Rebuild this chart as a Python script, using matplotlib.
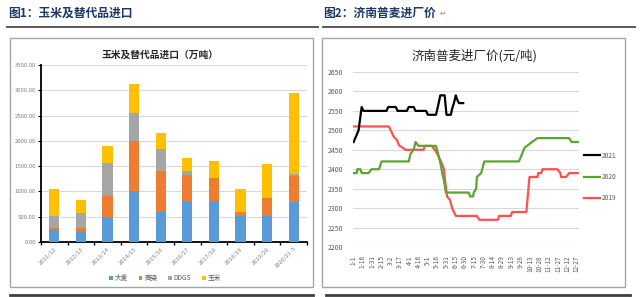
import matplotlib
matplotlib.use('Agg')
import matplotlib.pyplot as plt
from matplotlib.patches import Rectangle
from matplotlib.lines import Line2D

plt.rcParams['font.family'] = ['Noto Sans CJK SC', 'DejaVu Sans']

# ---------------- data: left chart (万吨) ----------------
seasons = ['2011/12', '2012/13', '2013/14', '2014/15', '2015/16',
           '2016/17', '2017/18', '2018/19', '2019/20', '2020/21-5']
barley = [250, 220, 490, 1000, 590, 810, 810, 515, 520, 800]
sorghum = [20, 65, 420, 1000, 810, 515, 450, 70, 345, 510]
ddgs = [245, 285, 660, 555, 430, 80, 0, 15, 0, 25]
corn = [525, 265, 330, 560, 330, 255, 345, 455, 675, 1620]
series_names = ['大麦', '高粱', 'DDGS', '玉米']

# ---------------- data: right chart (元/吨) ----------------
date_labels = ['1-1', '1-16', '1-31', '2-15', '3-2', '3-17', '4-1', '4-16', '5-1',
               '5-16', '5-31', '6-15', '6-30', '7-15', '7-30', '8-14', '8-29',
               '9-13', '9-28', '10-13', '10-28', '11-12', '11-27', '12-12', '12-27']
day_2021 = [0, 8, 13, 16, 53, 56, 68, 71, 86, 89, 97, 100, 117, 120, 133, 136,
            140, 147, 150, 157, 159, 162, 165, 167, 170, 177]
price_2021 = [2470, 2500, 2560, 2550, 2550, 2560, 2560, 2550, 2550, 2560, 2560,
              2550, 2550, 2540, 2540, 2560, 2590, 2590, 2540, 2540, 2555, 2570,
              2590, 2580, 2570, 2570]
day_2020 = [0, 5, 6, 11, 13, 24, 29, 41, 45, 89, 92, 97, 100, 105, 133, 138, 141,
            143, 146, 149, 186, 188, 193, 194, 198, 199, 206, 211, 267, 276, 280,
            288, 297, 348, 352, 362]
price_2020 = [2390, 2390, 2400, 2400, 2390, 2390, 2400, 2400, 2420, 2420, 2440,
              2450, 2470, 2460, 2460, 2430, 2410, 2390, 2370, 2340, 2340, 2330,
              2330, 2340, 2350, 2380, 2390, 2420, 2420, 2455, 2460, 2470, 2480,
              2480, 2470, 2470]
day_2019 = [0, 57, 65, 70, 73, 84, 113, 115, 126, 131, 135, 141, 146, 147, 151,
            156, 159, 162, 165, 199, 203, 233, 235, 254, 256, 279, 284, 297, 298,
            303, 305, 329, 334, 335, 343, 348, 362]
price_2019 = [2510, 2510, 2483, 2475, 2462, 2450, 2450, 2460, 2460, 2450, 2440,
              2420, 2400, 2380, 2330, 2320, 2300, 2290, 2280, 2280, 2270, 2270,
              2280, 2280, 2290, 2290, 2380, 2380, 2390, 2390, 2400, 2400, 2390,
              2380, 2380, 2390, 2390]

W, H = 640, 297
fig = plt.figure(figsize=(W / 100, H / 100), dpi=100)


def px(x0, y0, x1, y1):
    return [x0 / W, 1 - y1 / H, (x1 - x0) / W, (y1 - y0) / H]


def fx(x):
    return x / W


def fy(y):
    return 1 - y / H


# ---------- page decorations ----------
fig.text(fx(8), fy(13), '图1：玉米及替代品进口', fontsize=8.5, weight='bold',
         color='#1F3864', va='center', ha='left')
fig.text(fx(323), fy(13), '图2：济南普麦进厂价', fontsize=8.5, weight='bold',
         color='#1F3864', va='center', ha='left')
fig.text(fx(440), fy(13), '↵', fontsize=5.5, color='#909090', va='center', ha='left',
         family=['DejaVu Sans'])
for (a, b) in [(7, 318), (323, 635)]:
    fig.add_artist(Line2D([fx(a), fx(b)], [fy(27), fy(27)], color='#595959', lw=1.4,
                          transform=fig.transFigure))
    fig.add_artist(Line2D([fx(a + 3), fx(b - 5)], [fy(295), fy(295)], color='#404040',
                          lw=2.0, transform=fig.transFigure))
for (x0, y0, x1, y1) in [(10, 38, 313, 287), (322, 38, 625, 287)]:
    fig.add_artist(Rectangle((fx(x0), fy(y1)), (x1 - x0) / W, (y1 - y0) / H,
                             fill=False, ec='#A6A6A6', lw=1.0,
                             transform=fig.transFigure))

# ---------- left chart ----------
ax = fig.add_axes(px(41, 65, 307, 242))
cols = ['#5B9BD5', '#ED7D31', '#A5A5A5', '#FFC000']
x = list(range(len(seasons)))
bottom = [0] * len(seasons)
handles = []
for vals, c, name in zip([barley, sorghum, ddgs, corn], cols, series_names):
    b = ax.bar(x, vals, width=0.39, bottom=bottom, color=c, label=name, zorder=3)
    handles.append(b)
    bottom = [bb + v for bb, v in zip(bottom, vals)]
ax.set_xlim(-0.5, len(seasons) - 0.5)
ax.set_ylim(0, 3500)
ax.set_yticks(range(0, 3501, 500))
ax.set_yticklabels([f'{v:.2f}' for v in range(0, 3501, 500)], fontsize=4.3,
                   color='#7F7F7F')
ax.set_xticks(x)
ax.set_xticklabels(seasons, rotation=45, ha='right', rotation_mode='anchor',
                   fontsize=4.3, color='#7F7F7F')
ax.set_xticks([i + 0.5 for i in range(-1, len(seasons))], minor=True)
ax.tick_params(axis='x', which='major', length=0, pad=3)
ax.tick_params(axis='x', which='minor', length=2.5, width=1, color='black')
ax.tick_params(axis='y', length=2, width=0.8, pad=1.5)
ax.grid(axis='y', color='#D9D9D9', lw=0.8, zorder=0)
for s in ['top', 'right']:
    ax.spines[s].set_visible(False)
ax.spines['left'].set_linewidth(1.3)
ax.spines['bottom'].set_linewidth(1.3)
fig.text(fx(160), fy(55), '玉米及替代品进口（万吨）', fontsize=7, weight='bold',
         color='#262626', ha='center', va='center')
ax.legend(handles=handles, loc='center', bbox_to_anchor=(fx(165), fy(278)),
          bbox_transform=fig.transFigure, ncol=4, frameon=False, fontsize=4.8,
          handlelength=0.55, handleheight=0.55, handletextpad=0.3,
          columnspacing=1.6, labelcolor='#595959')

# ---------- right chart ----------
ax2 = fig.add_axes(px(353, 72, 579, 247))
ax2.plot(day_2021, price_2021, color='black', lw=1.6, label='2021', zorder=4)
ax2.plot(day_2020, price_2020, color='#5BA431', lw=1.6, label='2020', zorder=3)
ax2.plot(day_2019, price_2019, color='#FF5050', lw=1.6, label='2019', zorder=2)
ax2.set_xlim(-1, 364)
ax2.set_ylim(2200, 2650)
ax2.set_yticks(range(2200, 2651, 50))
ax2.tick_params(axis='y', length=0, pad=7, labelsize=5, labelcolor='#595959')
ax2.set_xticks([i * 15 for i in range(len(date_labels))])
ax2.set_xticklabels(date_labels, rotation=90, fontsize=4.6, color='#595959',
                    va='top', ha='center')
ax2.tick_params(axis='x', length=0, pad=6)
ax2.grid(axis='y', color='#D9D9D9', lw=0.8, zorder=0)
for s in ax2.spines.values():
    s.set_visible(False)
fig.text(fx(474), fy(56), '济南普麦进厂价(元/吨)', fontsize=9, weight='medium',
         color='#262626', ha='center', va='center')
ax2.legend(loc='center left', bbox_to_anchor=(fx(578), fy(177)),
           bbox_transform=fig.transFigure, frameon=False, fontsize=4.8,
           handlelength=2.4, handletextpad=0.2, labelspacing=2.0,
           labelcolor='#595959')

fig.savefig('out.png', dpi=100)
